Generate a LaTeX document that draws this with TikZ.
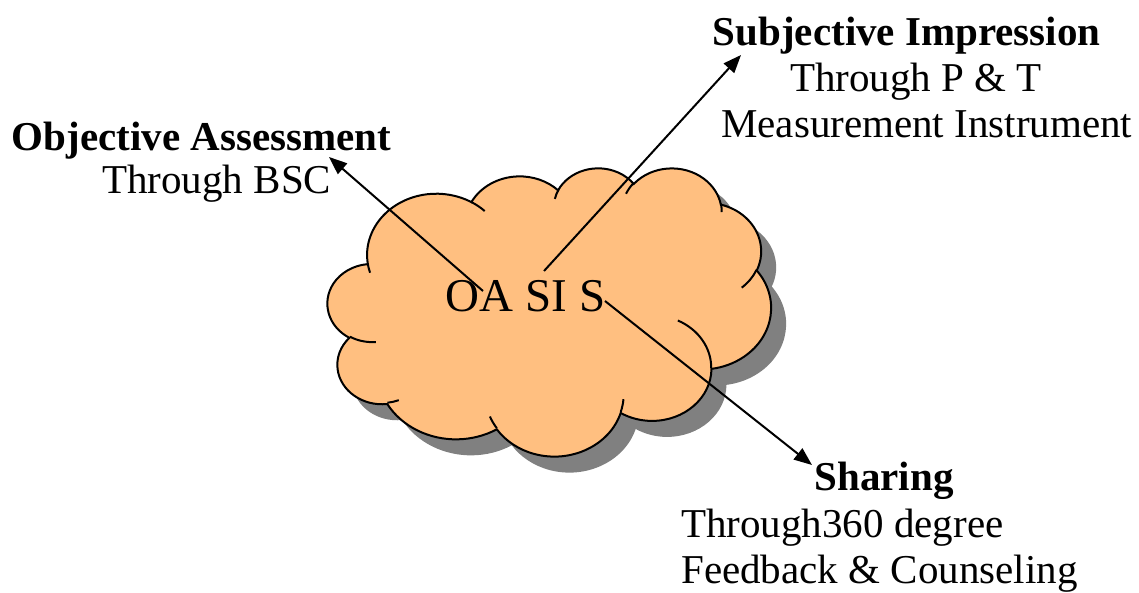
\documentclass[tikz,border=0pt]{standalone}
\usepackage{fontspec}
\setmainfont{Liberation Serif}
\usetikzlibrary{arrows.meta}
\definecolor{cpuff}{HTML}{FFBF80}
\definecolor{cshade}{HTML}{808080}
\tikzset{
  rim/.style={draw=black, line width=2pt},
  headtxt/.style={font=\fontsize{41}{46}\selectfont\bfseries, anchor=base, inner sep=0pt},
  bodytxt/.style={font=\fontsize{41}{46}\selectfont, anchor=base, inner sep=0pt},
  midtxt/.style={font=\fontsize{47}{52}\selectfont, anchor=base, inner sep=0pt},
  pointer/.style={-{Triangle[length=18pt, width=14pt]}, line width=2pt},
}

\begin{document}
\begin{tikzpicture}[x=1pt, y=-1pt]
\useasboundingbox (0,0) rectangle (1139,592);

% cloud in a 432 x 432 frame, each puff: x radius / y radius / start / sweep (seen angles)
\begin{scope}[shift={(327.7,167.4)}, x=1.026pt, y=-0.667pt]
  \gdef\cloudrim{(39,143.7)}
  \foreach \rx/\ry/\st/\sw in {67.53/91.90/-190.4875/123.7805, 53.33/72.67/-144.1024/89.9452,
      43.65/59.45/-145.8079/99.7230, 48.57/65.95/-130.9861/117.2417,
      53.33/72.73/-78.7089/109.0269, 67.75/92.20/-46.2673/130.2690,
      57.85/78.67/0.6250/114.0333, 67.52/92.15/22.4516/115.1726,
      77.20/105.43/66.2426/75.7110, 43.60/59.18/-274.9421/146.7356,
      43.45/59.45/-246.8285/152.5189} {
    \pgfmathsetmacro\ta{atan2(\rx*sin(\st),\ry*cos(\st))}
    \pgfmathsetmacro\tb{atan2(\rx*sin(\st+\sw),\ry*cos(\st+\sw))}
    \pgfmathsetmacro\dt{mod(\tb-(\ta)+720,360)}
    \xdef\cloudrim{\cloudrim arc[x radius=\rx, y radius=\ry, start angle=\ta, delta angle=\dt]}
  }
  \fill[cshade, xshift=15pt, yshift=-16pt] \cloudrim -- cycle;
  \filldraw[fill=cpuff, rim] \cloudrim -- cycle;
  % creases between the puffs
  \foreach \px/\py/\rx/\ry/\st/\sw in {46.93/261.77/43.45/59.45/86.7420/26.4295,
      69.28/348.99/43.60/59.18/73.6105/11.4475, 164.78/390.90/67.52/92.15/137.6242/14.0811,
      288.27/347.51/67.52/92.15/6.4533/15.9984, 341.29/229.54/57.85/78.67/-70.2924/70.9174,
      417.98/153.54/53.33/72.73/30.3180/27.7515, 383.24/54.26/48.57/65.95/-13.7443/14.8589,
      290.78/39.52/48.57/65.95/-149.1815/18.1954, 221.41/47.20/43.65/59.45/-163.4943/17.6864,
      140.00/51.92/67.53/91.90/-66.7070/12.3194, 41.27/157.89/67.53/91.90/157.6544/11.8582} {
    \pgfmathsetmacro\ta{atan2(\rx*sin(\st),\ry*cos(\st))}
    \pgfmathsetmacro\tb{atan2(\rx*sin(\st+\sw),\ry*cos(\st+\sw))}
    \pgfmathsetmacro\dt{mod(\tb-(\ta)+720,360)}
    \draw[rim] (\px,\py) arc[x radius=\rx, y radius=\ry, start angle=\ta, delta angle=\dt];
  }
\end{scope}

\node[midtxt] (core) at (525.5,311) {OA SI S};

\node[headtxt] (oaHead) at (201.4,150) {Objective Assessment};
\node[bodytxt] (oaBody) at (216.7,193) {Through BSC};
\node[headtxt] (siHead) at (906.7,45) {Subjective Impression};
\node[bodytxt] (siBodyA) at (916,91) {Through P \& T};
\node[bodytxt] (siBodyB) at (926.7,137) {Measurement Instrument};
\node[headtxt] (shHead) at (884,490) {Sharing};
\node[bodytxt, anchor=base west] (shBodyA) at (681,537) {Through360 degree};
\node[bodytxt, anchor=base west] (shBodyB) at (681,583) {Feedback \& Counseling};

% pointers out of the cloud
\coordinate (oaFoot) at (483,291);
\coordinate (oaTip) at (329,157);
\coordinate (siFoot) at (544,271);
\coordinate (siTip) at (741,55);
\coordinate (shFoot) at (605,301);
\coordinate (shTip) at (812,465);
\draw[pointer] (oaFoot) -- (oaTip);
\draw[pointer] (siFoot) -- (siTip);
\draw[pointer] (shFoot) -- (shTip);
\end{tikzpicture}
\end{document}
